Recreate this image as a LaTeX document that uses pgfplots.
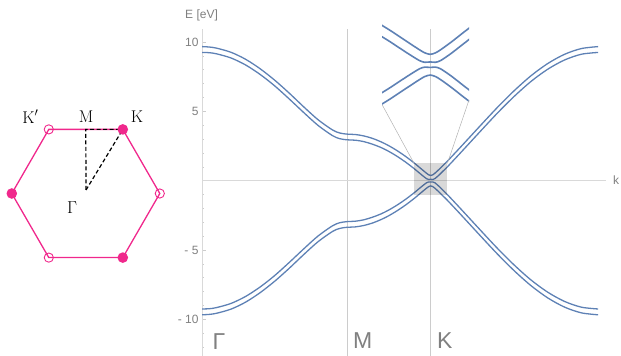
\documentclass[border=0pt]{standalone}
\usepackage{fontspec}
\usepackage{pgfplots}
\usepackage{pgfplotstable}
\pgfplotsset{compat=1.18}
\newfontfamily\msans{Liberation Sans}
\definecolor{band}{HTML}{5E81B5}
\definecolor{bz}{RGB}{240,40,140}
\definecolor{lbl}{gray}{0.5}

% path coordinate (Gamma-M = 1), outer/inner conduction, inner/outer valence
\pgfplotstableread{
x      a      b      c       d
0.0000 9.67   9.25   -9.25   -9.67
0.0500 9.64   9.23   -9.23   -9.64
0.1000 9.56   9.15   -9.15   -9.56
0.2000 9.26   8.85   -8.85   -9.26
0.3000 8.76   8.35   -8.35   -8.76
0.4000 8.08   7.67   -7.67   -8.08
0.5000 7.26   6.85   -6.85   -7.26
0.6000 6.33   5.91   -5.91   -6.33
0.7000 5.34   4.93   -4.93   -5.34
0.8000 4.40   3.99   -3.99   -4.40
0.9000 3.66   3.25   -3.25   -3.66
0.9500 3.44   3.03   -3.03   -3.44
1.0000 3.36   2.95   -2.95   -3.36
1.0577 3.33   2.92   -2.92   -3.33
1.1155 3.23   2.82   -2.82   -3.23
1.1732 3.06   2.64   -2.64   -3.06
1.2309 2.82   2.41   -2.41   -2.82
1.2887 2.52   2.11   -2.11   -2.52
1.3464 2.16   1.75   -1.75   -2.16
1.4041 1.75   1.34   -1.34   -1.75
1.4619 1.29   0.88   -0.88   -1.29
1.4907 1.04   0.63   -0.63   -1.04
1.5196 0.786  0.380  -0.380  -0.786
1.5485 0.536  0.146  -0.146  -0.536
1.5629 0.427  0.088  -0.088  -0.427
1.5774 0.374  0.100  -0.100  -0.374
1.5918 0.428  0.088  -0.088  -0.428
1.6063 0.543  0.152  -0.152  -0.543
1.6351 0.819  0.412  -0.412  -0.819
1.6640 1.12   0.71   -0.71   -1.12
1.6929 1.42   1.01   -1.01   -1.42
1.7506 2.06   1.65   -1.65   -2.06
1.8083 2.71   2.30   -2.30   -2.71
1.9238 4.02   3.61   -3.61   -4.02
2.0393 5.31   4.90   -4.90   -5.31
2.1548 6.51   6.10   -6.10   -6.51
2.2702 7.58   7.17   -7.17   -7.58
2.3857 8.46   8.05   -8.05   -8.46
2.5012 9.12   8.71   -8.71   -9.12
2.6166 9.53   9.12   -9.12   -9.53
2.7321 9.67   9.25   -9.25   -9.67
}\bands

\begin{document}
\begin{tikzpicture}
\path[use as bounding box] (0pt,0pt) rectangle (621pt,356pt);

% Brillouin zone
\begin{scope}[x=1pt,y=1pt]
\draw[bz, line width=1.3pt] (159.8,162.5) -- (122.8,226.6) -- (48.8,226.6) -- (11.8,162.5)
  -- (48.8,98.4) -- (122.8,98.4) -- cycle;
\draw[black, line width=1.2pt, dash pattern=on 4pt off 2.5pt] (86,166) -- (85.8,226.6) -- (122.8,226.6);
\draw[black, line width=1.2pt, dash pattern=on 4pt off 2.5pt] (86,166) -- (122.8,226.6);
\fill[bz] (122.8,226.6) circle (5.3) (11.8,162.5) circle (5.3) (122.8,98.4) circle (5.3);
\draw[bz, line width=0.9pt] (48.8,226.6) circle (4.6) (159.8,162.5) circle (4.6) (48.8,98.4) circle (4.6);
\node[font=\fontsize{17}{17}\selectfont] at (30.5,239.3) {$\mathrm{K}'$};
\node[font=\fontsize{17}{17}\selectfont] at (86,239.3) {M};
\node[font=\fontsize{17}{17}\selectfont] at (137,239.3) {K};
\node[font=\fontsize{17}{17}\selectfont] at (72,148) {$\Gamma$};
\end{scope}

% band structure
\begin{axis}[
    at={(202pt,0pt)}, anchor=south west,
    scale only axis, width=404pt, height=327pt,
    xmin=0, xmax=2.786, ymin=-12.64, ymax=10.94,
    axis lines=middle,
    axis line style={-, draw=gray!30, line width=0.8pt},
    xtick={1,1.5774}, xticklabels={},
    xtick style={draw=none},
    xmajorgrids=true,
    grid style={gray!40, line width=0.8pt},
    ytick={-10,-5,5,10}, yticklabels={- 10,- 5,5,10},
    minor ytick={-12,-11,...,10},
    tick align=inside,
    ytick style={gray!40, line width=0.6pt},
    major tick length=3.5pt, minor tick length=2pt,
    yticklabel style={font=\msans\fontsize{12}{12}\selectfont, text=lbl},
]
\addplot[band, line width=1.3pt, smooth] table[x=x, y=a] {\bands};
\addplot[band, line width=1.3pt, smooth] table[x=x, y=b] {\bands};
\addplot[band, line width=1.3pt, smooth] table[x=x, y=c] {\bands};
\addplot[band, line width=1.3pt, smooth] table[x=x, y=d] {\bands};
\fill[black, fill opacity=0.15] (axis cs:1.4624,-1.05) rectangle (axis cs:1.6924,1.25);
\coordinate (btl) at (axis cs:1.4624,1.25);
\coordinate (btr) at (axis cs:1.6924,1.25);
\end{axis}

% zoom around K
\begin{axis}[
    at={(382pt,247pt)}, anchor=south west,
    scale only axis, width=87pt, height=88.6pt,
    xmin=1.4459, xmax=1.6834, ymin=-1.6, ymax=1.6,
    hide axis,
]
\addplot[band, line width=1.6pt, smooth] table[x=x, y=a] {\bands};
\addplot[band, line width=1.6pt, smooth] table[x=x, y=b] {\bands};
\addplot[band, line width=1.6pt, smooth] table[x=x, y=c] {\bands};
\addplot[band, line width=1.6pt, smooth] table[x=x, y=d] {\bands};
\end{axis}

\begin{scope}[x=1pt,y=1pt]
\draw[gray!60, line width=0.5pt] (382.3,251) -- (btl);
\draw[gray!60, line width=0.5pt] (469,256) -- (btr);
% labels
\node[anchor=west, font=\msans\fontsize{12}{12}\selectfont, text=lbl, inner sep=0pt] at (185,341) {E [eV]};
\node[anchor=west, font=\msans\fontsize{12}{12}\selectfont, text=lbl, inner sep=0pt] at (613,176) {k};
\node[anchor=base west, font=\msans\fontsize{23}{23}\selectfont, text=lbl, inner sep=0pt] at (212.5,6.5) {Γ};
\node[anchor=base west, font=\msans\fontsize{23}{23}\selectfont, text=lbl, inner sep=0pt] at (353,7) {M};
\node[anchor=base west, font=\msans\fontsize{23}{23}\selectfont, text=lbl, inner sep=0pt] at (437,8) {K};
\end{scope}
\end{tikzpicture}
\end{document}
